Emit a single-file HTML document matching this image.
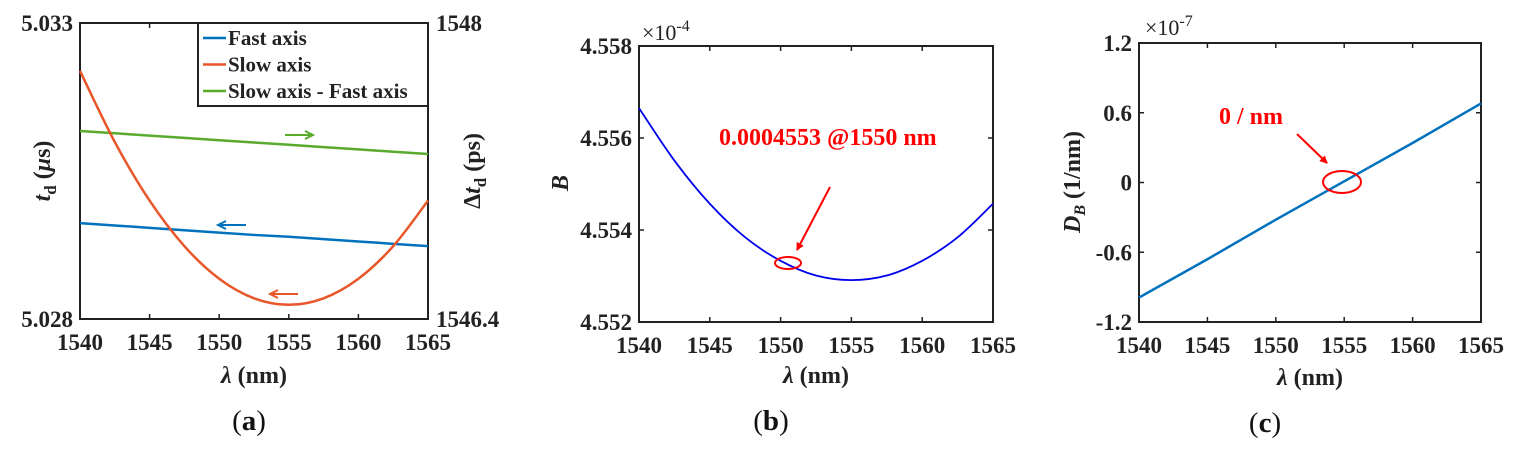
<!DOCTYPE html>
<html><head><meta charset="utf-8"><style>
html,body{margin:0;padding:0;background:#fff;}
svg{display:block;}
svg text, svg tspan{font-family:"Liberation Serif","Times New Roman","DejaVu Serif",serif;}
.tk{font-size:23px;font-weight:bold;fill:#222;}
.lab{font-size:24px;font-weight:bold;fill:#222;}
.cap{font-size:29px;fill:#111;}
</style></head><body>
<svg id="fig" width="1526" height="452" viewBox="0 0 1526 452">
<defs>
<marker id="ar" markerWidth="8" markerHeight="8" refX="7" refY="4" orient="auto" markerUnits="userSpaceOnUse"><path d="M0,0 L8,4 L0,8 z" fill="#f00"/></marker>
</defs>
<g id="pa"></g>
<g id="pb"></g>
<g id="pc"></g>
</svg>
<script>
const wl = [1540,1542.5,1545,1547.5,1550,1552.5,1555,1557.5,1560,1562.5,1565];
const fastAxis = [5.02962,5.02958,5.02954,5.02950,5.02946,5.02942,5.02939,5.02935,5.02931,5.02927,5.02923];
const slowAxis = [5.03219,5.03099,5.03000,5.02923,5.02868,5.02835,5.02824,5.02835,5.02868,5.02923,5.03000];
const diffAxis = [1547.416,1547.404,1547.391,1547.379,1547.366,1547.354,1547.342,1547.329,1547.317,1547.304,1547.292];
const bValues = [4.55665,4.55551,4.55457,4.55384,4.55333,4.55301,4.55291,4.55301,4.55333,4.55384,4.55457];
const dbWl = [1540,1545,1550,1555,1560,1565];
const dbValues = [-0.99,-0.66,-0.32,0.01,0.34,0.68];
const xTicks = [1540,1545,1550,1555,1560,1565];
const aLeftTicks = ["5.028","5.033"];
const aRightTicks = ["1546.4","1548"];
const bTicks = [4.552,4.554,4.556,4.558];
const cTicks = [-1.2,-0.6,0,0.6,1.2];
const legendLabels = ["Fast axis","Slow axis","Slow axis - Fast axis"];

const NS="http://www.w3.org/2000/svg";
function mk(parent,tag,attrs,text){const e=document.createElementNS(NS,tag);for(const k in attrs)e.setAttribute(k,attrs[k]);if(text!==undefined)e.textContent=text;parent.appendChild(e);return e;}
function scale(d0,d1,r0,r1){return v=>r0+(v-d0)/(d1-d0)*(r1-r0);}
function frame(g,L,T,R,B,xs){
  const r=mk(g,'rect',{x:L,y:T,width:R-L,height:B-T,fill:'none',stroke:'#222','stroke-width':2});
  
  
  xTicks.forEach(t=>{const x=xs(t);
    mk(g,'line',{x1:x,y1:B,x2:x,y2:B-5,stroke:'#222','stroke-width':1.5});
    mk(g,'line',{x1:x,y1:T,x2:x,y2:T+5,stroke:'#222','stroke-width':1.5});
    const tl=mk(g,'text',{x:x,y:B+31,'text-anchor':'middle',class:'tk'},String(t));
    
    
  });
}
function line(g,xsArr,ysArr,xs,ys,color,w,name){
  const p=mk(g,'polyline',{points:xsArr.map((x,i)=>xs(x)+','+ys(ysArr[i])).join(' '),fill:'none',stroke:color,'stroke-width':w});
  
  
}
function smooth(g,xsArr,ysArr,xs,ys,color,w,name){
  const pts=xsArr.map((x,i)=>[xs(x),ys(ysArr[i])]);
  let d='M'+pts[0][0]+','+pts[0][1];
  for(let i=0;i<pts.length-1;i++){
    const p0=pts[Math.max(0,i-1)],p1=pts[i],p2=pts[i+1],p3=pts[Math.min(pts.length-1,i+2)];
    d+=` C${p1[0]+(p2[0]-p0[0])/6},${p1[1]+(p2[1]-p0[1])/6} ${p2[0]-(p3[0]-p1[0])/6},${p2[1]-(p3[1]-p1[1])/6} ${p2[0]},${p2[1]}`;
  }
  const p=mk(g,'path',{d:d,fill:'none',stroke:color,'stroke-width':w});
  
  
}
function arrow(g,x1,x2,y,color,name){
  const dir=x2>x1?1:-1;
  const a=mk(g,'path',{d:`M${x1},${y} L${x2},${y} M${x2-dir*8},${y-4} L${x2},${y} L${x2-dir*8},${y+4}`,fill:'none',stroke:color,'stroke-width':2});
  
  
}

// Panel A
(function(){
  const g=document.getElementById('pa');
  const L=80,T=23,R=428,B=319;
  const xs=scale(1540,1565,L,R), ysL=scale(5.028,5.033,B,T), ysR=scale(1546.4,1548,B,T);
  frame(g,L,T,R,B,xs);
  mk(g,'text',{x:73,y:31,'text-anchor':'end',class:'tk'},aLeftTicks[1]);
  mk(g,'text',{x:73,y:327,'text-anchor':'end',class:'tk'},aLeftTicks[0]);
  mk(g,'text',{x:436,y:31,class:'tk'},aRightTicks[1]);
  mk(g,'text',{x:436,y:327,class:'tk'},aRightTicks[0]);
  line(g,wl,diffAxis,xs,ysR,'#5aaa2c',2.5,'diff-axis-line');
  line(g,wl,fastAxis,xs,ysL,'#0072bd',2.5,'fast-axis-line');
  smooth(g,wl,slowAxis,xs,ysL,'#e8562a',2.5,'slow-axis-line');
  arrow(g,285,313,135,'#5aaa2c','green-arrow');
  arrow(g,246,218,225,'#0072bd','blue-arrow');
  arrow(g,298,270,294,'#e8562a','orange-arrow');
  const lg=mk(g,'g',{});
  
  
  mk(lg,'rect',{x:198,y:23,width:230,height:83,fill:'#fff',stroke:'#222','stroke-width':2});
  const cols=['#0072bd','#e8562a','#5aaa2c'];
  legendLabels.forEach((t,i)=>{const y=38+i*26.5;
    mk(lg,'line',{x1:203,y1:y,x2:226,y2:y,stroke:cols[i],'stroke-width':2.5});
    const e=mk(lg,'text',{x:228,y:y+7,style:'font-size:21px;font-weight:bold;fill:#222'},t);
    
    
  });
  mk(g,'text',{x:254,y:383,'text-anchor':'middle',class:'lab'}).innerHTML='<tspan font-style="italic">λ</tspan> (nm)';
  mk(g,'text',{transform:'translate(50,171) rotate(-90)','text-anchor':'middle',class:'lab'}).innerHTML='<tspan font-style="italic">t</tspan><tspan font-size="17" dy="6">d</tspan><tspan dy="-6"> (</tspan><tspan font-style="italic">μ</tspan>s)';
  mk(g,'text',{transform:'translate(480,171) rotate(-90)','text-anchor':'middle',class:'lab'}).innerHTML='Δ<tspan font-style="italic">t</tspan><tspan font-size="17" dy="6">d</tspan><tspan dy="-6"> (ps)</tspan>';
  mk(g,'text',{x:249,y:430,'text-anchor':'middle',class:'cap'}).innerHTML='(<tspan font-weight="bold">a</tspan>)';
})();

// Panel B
(function(){
  const g=document.getElementById('pb');
  const L=639,T=46,R=993,B=322;
  const xs=scale(1540,1565,L,R), ys=scale(4.552,4.558,B,T);
  frame(g,L,T,R,B,xs);
  bTicks.forEach(t=>{const y=ys(t);
    mk(g,'line',{x1:L,y1:y,x2:L+5,y2:y,stroke:'#222','stroke-width':1.5});
    mk(g,'line',{x1:R,y1:y,x2:R-5,y2:y,stroke:'#222','stroke-width':1.5});
    mk(g,'text',{x:632,y:y+8,'text-anchor':'end',class:'tk'},t.toFixed(3));
  });
  mk(g,'text',{x:642,y:40,style:'font-size:22px;fill:#222'}).innerHTML='×10<tspan font-size="16" dy="-9">-4</tspan>';
  smooth(g,wl,bValues,xs,ys,'#0000ee',1.8,'b-curve');
  const e=mk(g,'ellipse',{cx:788,cy:263,rx:13,ry:6,fill:'none',stroke:'#f00','stroke-width':2});
  
  
  mk(g,'line',{x1:830,y1:187,x2:797,y2:250,stroke:'#f00','stroke-width':2,'marker-end':'url(#ar)'});
  mk(g,'text',{x:719,y:145,style:'font-size:24px;font-weight:bold;fill:#f00'},'0.0004553 @1550 nm');
  mk(g,'text',{transform:'translate(568,183) rotate(-90)','text-anchor':'middle',class:'lab','font-style':'italic'},'B');
  mk(g,'text',{x:816,y:383,'text-anchor':'middle',class:'lab'}).innerHTML='<tspan font-style="italic">λ</tspan> (nm)';
  mk(g,'text',{x:771,y:430,'text-anchor':'middle',class:'cap'}).innerHTML='(<tspan font-weight="bold">b</tspan>)';
})();

// Panel C
(function(){
  const g=document.getElementById('pc');
  const L=1139,T=43,R=1481,B=322;
  const xs=scale(1540,1565,L,R), ys=scale(-1.2,1.2,B,T);
  frame(g,L,T,R,B,xs);
  cTicks.forEach(t=>{const y=ys(t);
    mk(g,'line',{x1:L,y1:y,x2:L+5,y2:y,stroke:'#222','stroke-width':1.5});
    mk(g,'line',{x1:R,y1:y,x2:R-5,y2:y,stroke:'#222','stroke-width':1.5});
    mk(g,'text',{x:1132,y:y+8,'text-anchor':'end',class:'tk'},t===0?'0':t.toFixed(1));
  });
  mk(g,'text',{x:1145,y:35,style:'font-size:22px;fill:#222'}).innerHTML='×10<tspan font-size="16" dy="-9">-7</tspan>';
  line(g,dbWl,dbValues,xs,ys,'#0072bd',2.5,'db-line');
  const e=mk(g,'ellipse',{cx:1342,cy:182,rx:19,ry:11,fill:'none',stroke:'#f00','stroke-width':2});
  
  
  mk(g,'line',{x1:1297,y1:134,x2:1327,y2:163,stroke:'#f00','stroke-width':2,'marker-end':'url(#ar)'});
  mk(g,'text',{x:1219,y:124,style:'font-size:24px;font-weight:bold;fill:#f00'},'0 / nm');
  mk(g,'text',{transform:'translate(1080,182) rotate(-90)','text-anchor':'middle',class:'lab'}).innerHTML='<tspan font-style="italic">D</tspan><tspan font-style="italic" font-size="16" dy="5">B</tspan><tspan dy="-5"> (1/nm)</tspan>';
  mk(g,'text',{x:1310,y:385,'text-anchor':'middle',class:'lab'}).innerHTML='<tspan font-style="italic">λ</tspan> (nm)';
  mk(g,'text',{x:1265,y:432,'text-anchor':'middle',class:'cap'}).innerHTML='(<tspan font-weight="bold">c</tspan>)';
})();
</script>
</body></html>
